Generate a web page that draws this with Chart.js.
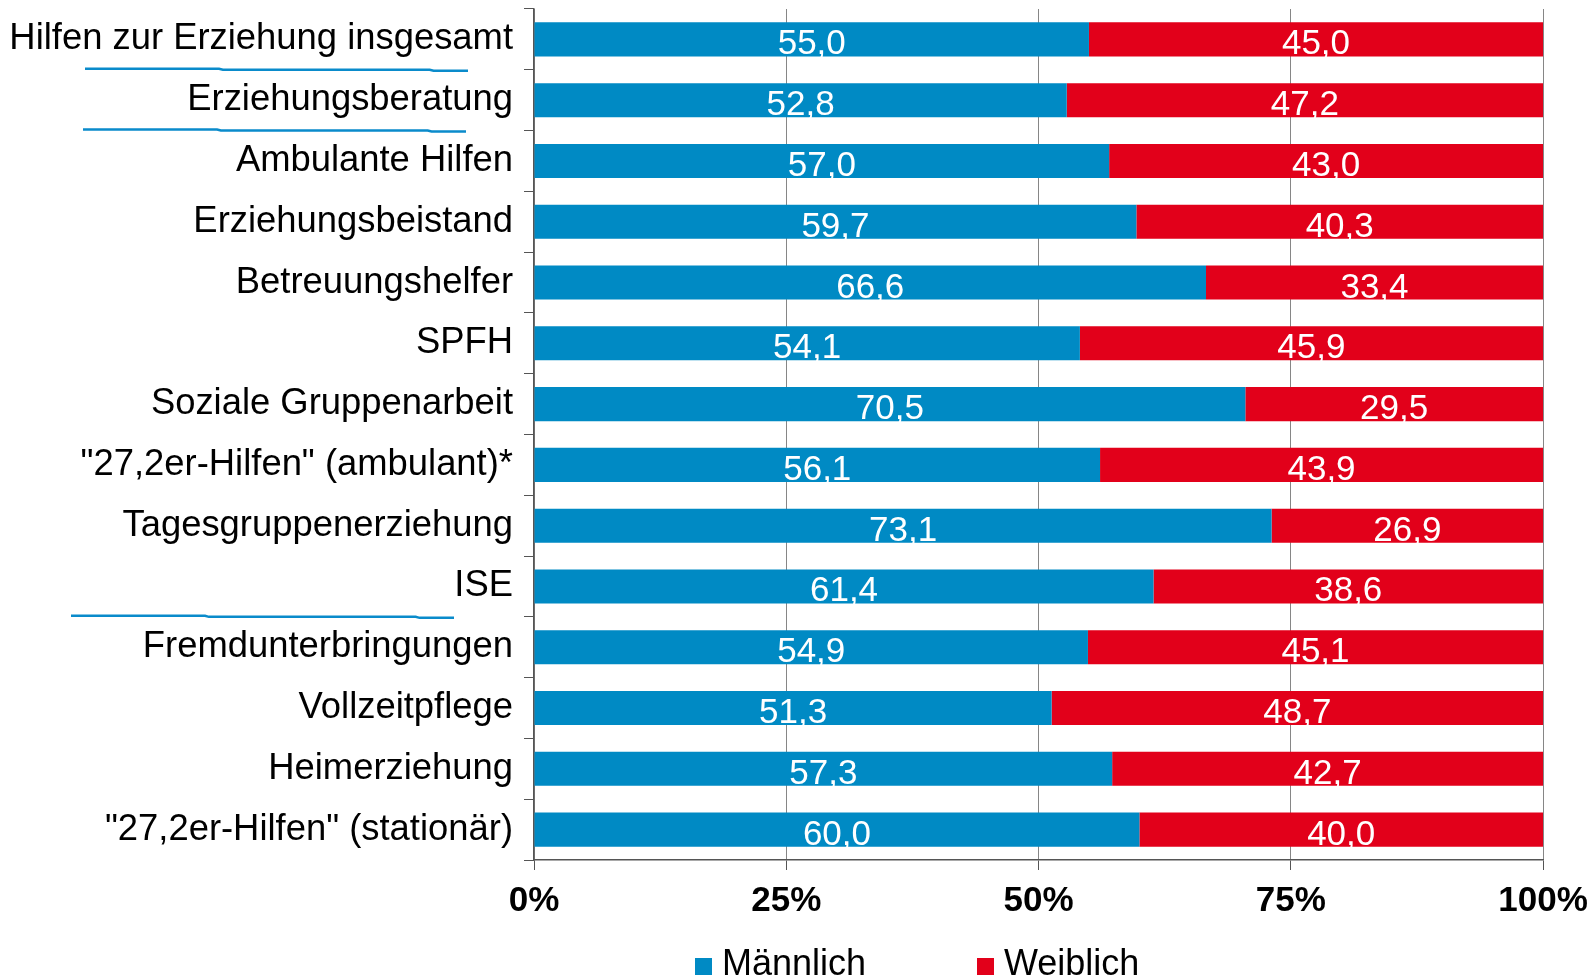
<!DOCTYPE html>
<html><head><meta charset="utf-8">
<script src="https://cdn.jsdelivr.net/npm/chart.js@4.4.0/dist/chart.umd.min.js"></script>
<style>
html,body{margin:0;padding:0;background:#fff;overflow:hidden;width:1593px;height:975px}
#wrap{position:relative;width:1593px;height:975px;overflow:hidden}
canvas{display:block}
.lg-text{position:absolute;font:36px "Liberation Sans",Arial,sans-serif;line-height:36px;color:#000;white-space:nowrap}
.lg-sw{position:absolute;width:17px;height:17px}
</style></head><body>
<div id="wrap"><canvas id="c" width="1593" height="975"></canvas><div id="legend"></div></div>
<script>
const categories = [
  'Hilfen zur Erziehung insgesamt',
  'Erziehungsberatung',
  'Ambulante Hilfen',
  'Erziehungsbeistand',
  'Betreuungshelfer',
  'SPFH',
  'Soziale Gruppenarbeit',
  '"27,2er-Hilfen" (ambulant)*',
  'Tagesgruppenerziehung',
  'ISE',
  'Fremdunterbringungen',
  'Vollzeitpflege',
  'Heimerziehung',
  '"27,2er-Hilfen" (stationär)'
];
const maleValues   = [55.0, 52.8, 57.0, 59.7, 66.6, 54.1, 70.5, 56.1, 73.1, 61.4, 54.9, 51.3, 57.3, 60.0];
const femaleValues = [45.0, 47.2, 43.0, 40.3, 33.4, 45.9, 29.5, 43.9, 26.9, 38.6, 45.1, 48.7, 42.7, 40.0];
const xTickValues = [0, 25, 50, 75, 100];
const seriesNames = ['Männlich', 'Weiblich'];
const seriesColors = ['#008AC4', '#E2001A'];
const separatorAfter = [0, 1, 9];

const FONT = '"Liberation Sans", Arial, Helvetica, sans-serif';
Chart.defaults.font.family = FONT;

const valueLabels = {
  id: 'valueLabels',
  afterDatasetsDraw(chart) {
    const ctx = chart.ctx;
    ctx.save();
    ctx.font = '35px ' + FONT;
    ctx.fillStyle = '#ffffff';
    ctx.textAlign = 'center';
    ctx.textBaseline = 'alphabetic';
    chart.data.datasets.forEach((ds, di) => {
      chart.getDatasetMeta(di).data.forEach((bar, i) => {
        const p = bar.getProps(['x', 'y', 'base', 'height'], true);
        const x = (p.x + p.base) / 2;
        ctx.fillText(ds.data[i].toFixed(1).replace('.', ','), x, p.y + p.height / 2 - 2);
      });
    });
    ctx.restore();
  }
};

const separators = {
  id: 'separators',
  afterDraw(chart, args, opts) {
    const ctx = chart.ctx, y = chart.scales.y;
    ctx.save();
    ctx.strokeStyle = opts.color;
    ctx.lineWidth = 2.5;
    separatorAfter.forEach((idx, k) => {
      const yy = (y.getPixelForValue(idx) + y.getPixelForValue(idx + 1)) / 2;
      const span = opts.spans[k];
      const w = span[1] - span[0];
      ctx.beginPath();
      ctx.moveTo(span[0], yy - 1);
      ctx.lineTo(span[0] + w * 0.35, yy - 1);
      ctx.lineTo(span[0] + w * 0.36, yy);
      ctx.lineTo(span[0] + w * 0.9, yy);
      ctx.lineTo(span[0] + w * 0.91, yy + 1);
      ctx.lineTo(span[1], yy + 1);
      ctx.stroke();
    });
    ctx.restore();
  }
};

new Chart(document.getElementById('c'), {
  type: 'bar',
  data: {
    labels: categories,
    datasets: [
      { label: seriesNames[0], data: maleValues, backgroundColor: seriesColors[0], barPercentage: 0.56, categoryPercentage: 1 },
      { label: seriesNames[1], data: femaleValues, backgroundColor: seriesColors[1], barPercentage: 0.56, categoryPercentage: 1 }
    ]
  },
  options: {
    indexAxis: 'y',
    responsive: false,
    animation: false,
    devicePixelRatio: 1,
    layout: { padding: { top: 9, right: 50, left: 0, bottom: 0 } },
    plugins: {
      legend: { display: false },
      tooltip: { enabled: false },
      separators: { color: '#0a8bcb', spans: [[85, 468], [83, 466], [71, 454]] }
    },
    scales: {
      x: {
        stacked: true, min: 0, max: 100,
        afterFit(s) { s.height = 115; s.paddingLeft = 0; s.paddingRight = 0; },
        afterBuildTicks(s) { s.ticks = xTickValues.map(v => ({ value: v })); },
        ticks: { callback: v => v + '%', font: { size: 35, weight: 'bold' }, color: '#000', padding: 10, maxRotation: 0, autoSkip: false },
        grid: { color: '#868686', lineWidth: 1, tickLength: 10, tickColor: '#555' },
        border: { color: '#555', width: 1.5 }
      },
      y: {
        stacked: true,
        afterFit(s) { s.width = 534; s.paddingTop = 0; s.paddingBottom = 0; },
        ticks: { font: { size: 36.4 }, color: '#000', padding: 11, autoSkip: false },
        grid: { drawOnChartArea: false, tickLength: 10, color: '#555', offset: true },
        border: { color: '#555', width: 1.5 }
      }
    }
  },
  plugins: [valueLabels, separators]
});

// legend built from series arrays
const legendPos = [{ sw: 695, tx: 722 }, { sw: 977, tx: 1004 }];
const lg = document.getElementById('legend');
seriesNames.forEach((name, i) => {
  const sw = document.createElement('div');
  sw.className = 'lg-sw';
  sw.style.left = legendPos[i].sw + 'px';
  sw.style.top = '958px';
  sw.style.background = seriesColors[i];
  lg.appendChild(sw);
  const tx = document.createElement('div');
  tx.className = 'lg-text';
  tx.style.left = legendPos[i].tx + 'px';
  tx.style.top = '945px';
  tx.textContent = name;
  lg.appendChild(tx);
});
</script>
</body></html>
